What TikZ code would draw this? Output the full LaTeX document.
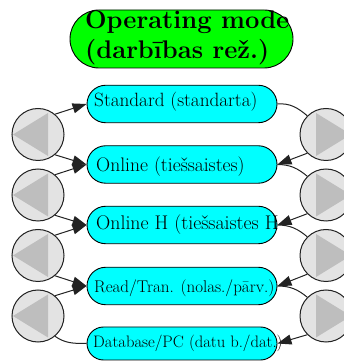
\documentclass[tikz,border=0pt]{standalone}
\usetikzlibrary{arrows.meta,shapes.misc}
\definecolor{modegreen}{HTML}{00FF00}
\definecolor{modecyan}{HTML}{00FFFF}
\definecolor{knobfill}{HTML}{E3E3E3}
\definecolor{knobtri}{HTML}{BEBEBE}
\definecolor{wire}{HTML}{222222}
\begin{document}
\begin{tikzpicture}[x=1pt,y=1pt,
  titlebox/.style={rounded rectangle, draw=black, line width=0.9pt, fill=modegreen,
    minimum width=223pt, minimum height=58pt, inner sep=0pt},
  modebox/.style={rounded rectangle, draw=black, line width=0.9pt, fill=modecyan,
    minimum width=190pt, minimum height=37.5pt, inner sep=0pt},
  knob/.style={circle, draw=wire, line width=1pt, fill=knobfill,
    minimum size=52pt, inner sep=0pt},
  tri/.style={fill=knobtri},
  boxtext/.style={anchor=base west, inner sep=0pt},
  link/.style={draw=wire, line width=1pt},
  arrowlink/.style={link, -{Triangle[length=14pt,width=10pt]}},
]
\useasboundingbox (0,0) rectangle (344,361);

% title
\node[titlebox] (title) at (181.5,322) {};
\node[boxtext, font=\fontsize{25.5}{30}\selectfont\bfseries] (titletext) at (85,332)
  {\begin{tabular}[t]{@{}l@{}}Operating mode\\(darbības rež.)\end{tabular}};

% mode boxes
\node[modebox] (b1) at (182,257) {};
\node[modebox] (b2) at (182,196.5) {};
\node[modebox] (b3) at (182,136) {};
\node[modebox] (b4) at (182,75) {};
\node[modebox, minimum height=33pt] (b5) at (182,17.5) {};

\node[boxtext, font=\fontsize{19.2}{22}\selectfont] (t1) at (94,254) {Standard (standarta)};
\node[boxtext, font=\fontsize{19.6}{22}\selectfont] (t2) at (96,189) {Online (tiešsaistes)};
\node[boxtext, font=\fontsize{19.8}{22}\selectfont] (t3) at (96,131) {Online H (tiešsaistes H};
\node[boxtext, font=\fontsize{17}{20}\selectfont] (t4) at (94,68) {Read/Tran. (nolas./pārv.)};
\node[boxtext, font=\fontsize{16.6}{20}\selectfont] (t5) at (93,13) {Database/PC (datu b./dat.)};

% back / forward knobs
\foreach \i/\y in {1/226.5, 2/166, 3/105.5, 4/45} {
  \node[knob] (lc\i) at (38,\y) {};
  \fill[tri, shift={(lc\i.center)}] (-25,0) -- (10,21.5) -- (10,-21.5) -- cycle;
  \node[knob] (rc\i) at (326,\y) {};
  \fill[tri, shift={(rc\i.center)}] (25,0) -- (-10,21.5) -- (-10,-21.5) -- cycle;
}

% left connectors
\draw[arrowlink] (lc1.50) -- (b1.west);
\draw[arrowlink] (lc1.-50) -- (b2.west);
\draw[arrowlink] (lc2.50) -- (b2.west);
\draw[arrowlink] (lc2.-50) -- (b3.west);
\draw[arrowlink] (lc3.50) -- (b3.west);
\draw[arrowlink] (lc3.-50) -- (b4.west);
\draw[arrowlink] (lc4.50) -- (b4.west);
\draw[link] (lc4.-50) to[out=-35, in=180] (b5.west);

% right connectors
\draw[link] (b1.east) to[out=5, in=140] (rc1.135);
\draw[arrowlink] (rc1.225) -- (b2.east);
\draw[link] (b2.east) to[out=0, in=140] (rc2.135);
\draw[arrowlink] (rc2.225) -- (b3.east);
\draw[link] (b3.east) to[out=0, in=140] (rc3.135);
\draw[arrowlink] (rc3.225) -- (b4.east);
\draw[link] (b4.east) to[out=0, in=140] (rc4.135);
\draw[arrowlink] (rc4.225) -- (b5.east);
\end{tikzpicture}
\end{document}
